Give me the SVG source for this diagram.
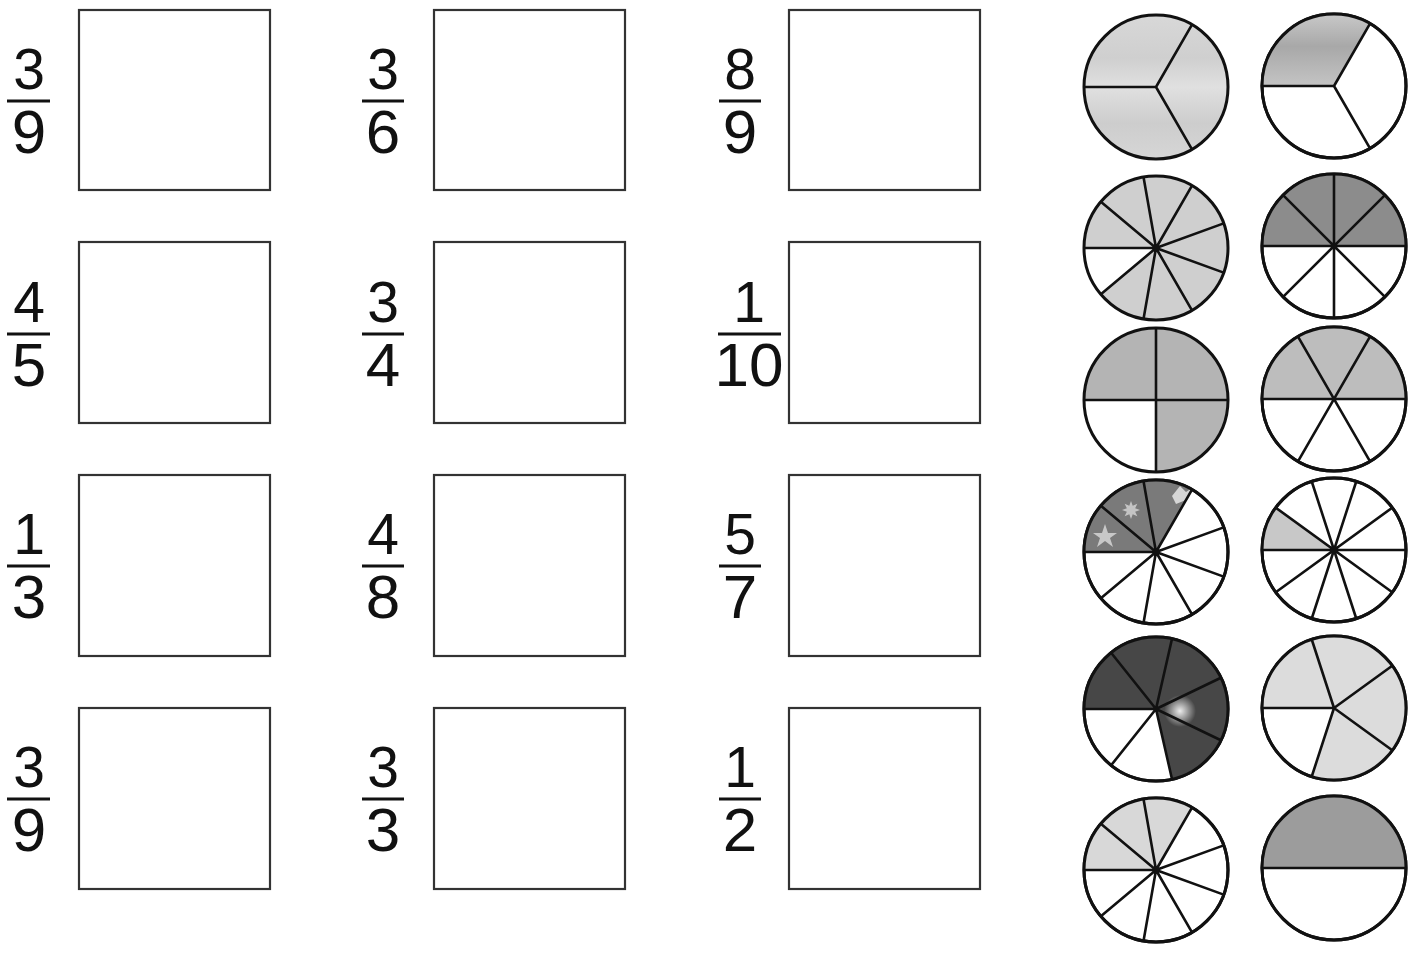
<svg xmlns="http://www.w3.org/2000/svg" width="1421" height="955" viewBox="0 0 1421 955">
<style>
.box{fill:#fff;stroke:#333;stroke-width:2.2}
.n{font-family:"Liberation Sans",Arial,sans-serif;font-size:57px;fill:#111;text-anchor:middle}
.d{font-family:"Liberation Sans",Arial,sans-serif;font-size:62px;fill:#111;text-anchor:middle}
.bar{stroke:#111;stroke-width:3}
.ring{fill:#fff;stroke:#111;stroke-width:3}
.ln{stroke:#111;stroke-width:2.6;fill:none}
.edge{fill:none;stroke:#111;stroke-width:3}
</style>
<defs>
<radialGradient id="glow" cx="0.5" cy="0.5" r="0.5">
<stop offset="0" stop-color="#fff" stop-opacity="0.9"/>
<stop offset="1" stop-color="#fff" stop-opacity="0"/>
</radialGradient>
<linearGradient id="band1" x1="0" y1="0" x2="0" y2="1">
<stop offset="0" stop-color="#d8d8d8"/>
<stop offset="0.3" stop-color="#cfcfcf"/>
<stop offset="0.5" stop-color="#e0e0e0"/>
<stop offset="0.75" stop-color="#cdcdcd"/>
<stop offset="1" stop-color="#d6d6d6"/>
</linearGradient>
<linearGradient id="band2" x1="0" y1="0" x2="0" y2="1">
<stop offset="0" stop-color="#c8c8c8"/>
<stop offset="0.45" stop-color="#a8a8a8"/>
<stop offset="1" stop-color="#c4c4c4"/>
</linearGradient>
</defs>

<g id="exercises">
<g id="ex-r1c1"><rect class="box" x="79" y="10" width="191" height="180"/><text class="n" x="29" y="89">3</text><line class="bar" x1="7" y1="101" x2="50" y2="101"/><text class="d" x="29" y="153">9</text></g>
<g id="ex-r1c2"><rect class="box" x="434" y="10" width="191" height="180"/><text class="n" x="383" y="89">3</text><line class="bar" x1="362" y1="101" x2="404" y2="101"/><text class="d" x="383" y="153">6</text></g>
<g id="ex-r1c3"><rect class="box" x="789" y="10" width="191" height="180"/><text class="n" x="740" y="89">8</text><line class="bar" x1="719" y1="101" x2="761" y2="101"/><text class="d" x="740" y="153">9</text></g>

<g id="ex-r2c1"><rect class="box" x="79" y="242" width="191" height="181"/><text class="n" x="29" y="322">4</text><line class="bar" x1="7" y1="334" x2="50" y2="334"/><text class="d" x="29" y="386">5</text></g>
<g id="ex-r2c2"><rect class="box" x="434" y="242" width="191" height="181"/><text class="n" x="383" y="322">3</text><line class="bar" x1="362" y1="334" x2="404" y2="334"/><text class="d" x="383" y="386">4</text></g>
<g id="ex-r2c3"><rect class="box" x="789" y="242" width="191" height="181"/><text class="n" x="749" y="322">1</text><line class="bar" x1="718" y1="334" x2="781" y2="334"/><text class="d" x="749" y="386">10</text></g>

<g id="ex-r3c1"><rect class="box" x="79" y="475" width="191" height="181"/><text class="n" x="29" y="554">1</text><line class="bar" x1="7" y1="566" x2="50" y2="566"/><text class="d" x="29" y="618">3</text></g>
<g id="ex-r3c2"><rect class="box" x="434" y="475" width="191" height="181"/><text class="n" x="383" y="554">4</text><line class="bar" x1="362" y1="566" x2="404" y2="566"/><text class="d" x="383" y="618">8</text></g>
<g id="ex-r3c3"><rect class="box" x="789" y="475" width="191" height="181"/><text class="n" x="740" y="554">5</text><line class="bar" x1="719" y1="566" x2="761" y2="566"/><text class="d" x="740" y="618">7</text></g>

<g id="ex-r4c1"><rect class="box" x="79" y="708" width="191" height="181"/><text class="n" x="29" y="787">3</text><line class="bar" x1="7" y1="799" x2="50" y2="799"/><text class="d" x="29" y="851">9</text></g>
<g id="ex-r4c2"><rect class="box" x="434" y="708" width="191" height="181"/><text class="n" x="383" y="787">3</text><line class="bar" x1="362" y1="799" x2="404" y2="799"/><text class="d" x="383" y="851">3</text></g>
<g id="ex-r4c3"><rect class="box" x="789" y="708" width="191" height="181"/><text class="n" x="740" y="787">1</text><line class="bar" x1="719" y1="799" x2="761" y2="799"/><text class="d" x="740" y="851">2</text></g>
</g>

<g id="circles">
<g id="circle-a">
<circle cx="1156" cy="87" r="72" fill="url(#band1)"/>
<path class="ln" d="M1156 87 L1084 87 M1156 87 L1192 24.65 M1156 87 L1192 149.35"/>
<circle class="edge" cx="1156" cy="87" r="72"/>
</g>
<g id="circle-b">
<circle class="ring" cx="1334" cy="86" r="72"/>
<path d="M1334 86 L1370 23.65 A72 72 0 0 0 1262 86 Z" fill="url(#band2)"/>
<path class="ln" d="M1334 86 L1262 86 M1334 86 L1370 23.65 M1334 86 L1370 148.35"/>
<circle class="edge" cx="1334" cy="86" r="72"/>
</g>
<g id="circle-c">
<circle cx="1156" cy="248" r="72" fill="#cfcfcf"/>
<path d="M1156 248 L1084 248 A72 72 0 0 0 1100.85 294.28 Z" fill="#fff"/>
<path class="ln" d="M1156 248 L1084 248 M1156 248 L1100.85 201.72 M1156 248 L1143.5 177.09 M1156 248 L1192 185.65 M1156 248 L1223.66 223.38 M1156 248 L1223.66 272.62 M1156 248 L1192 310.35 M1156 248 L1143.5 318.91 M1156 248 L1100.85 294.28"/>
<circle class="edge" cx="1156" cy="248" r="72"/>
</g>
<g id="circle-d">
<circle class="ring" cx="1334" cy="246" r="72"/>
<path d="M1262 246 A72 72 0 0 1 1406 246 Z" fill="#8c8c8c"/>
<path class="ln" d="M1262 246 L1406 246 M1334 174 L1334 318 M1283.09 195.09 L1384.91 296.91 M1384.91 195.09 L1283.09 296.91"/>
<circle class="edge" cx="1334" cy="246" r="72"/>
</g>
<g id="circle-e">
<circle cx="1156" cy="400" r="72" fill="#b4b4b4"/>
<path d="M1156 400 L1084 400 A72 72 0 0 0 1156 472 Z" fill="#fff"/>
<path class="ln" d="M1084 400 L1228 400 M1156 328 L1156 472"/>
<circle class="edge" cx="1156" cy="400" r="72"/>
</g>
<g id="circle-f">
<circle class="ring" cx="1334" cy="399" r="72"/>
<path d="M1262 399 A72 72 0 0 1 1406 399 Z" fill="#bdbdbd"/>
<path class="ln" d="M1262 399 L1406 399 M1370 336.65 L1298 461.35 M1298 336.65 L1370 461.35"/>
<circle class="edge" cx="1334" cy="399" r="72"/>
</g>
<g id="circle-g">
<circle class="ring" cx="1156" cy="552" r="72"/>
<path d="M1156 552 L1192 489.65 A72 72 0 0 0 1084 552 Z" fill="#7a7a7a"/>
<polygon points="1105,524 1108,533 1117,533 1110,538 1113,547 1105,541 1097,547 1100,538 1093,533 1102,533" fill="#c8c8c8"/>
<polygon points="1140,510 1135.16,511.72 1137.36,516.36 1132.72,514.16 1131,519 1129.28,514.16 1124.64,516.36 1126.84,511.72 1122,510 1126.84,508.28 1124.64,503.64 1129.28,505.84 1131,501 1132.72,505.84 1137.36,503.64 1135.16,508.28" fill="#c4c4c4"/>
<path d="M1172 496 L1180 486 L1186 492 L1192 488 L1186 500 L1176 504 Z" fill="#d6d6d6"/>
<path class="ln" d="M1156 552 L1084 552 M1156 552 L1100.85 505.72 M1156 552 L1143.5 481.09 M1156 552 L1192 489.65 M1156 552 L1223.66 527.38 M1156 552 L1223.66 576.62 M1156 552 L1192 614.35 M1156 552 L1143.5 622.91 M1156 552 L1100.85 598.28"/>
<circle class="edge" cx="1156" cy="552" r="72"/>
</g>
<g id="circle-h">
<circle class="ring" cx="1334" cy="550" r="72"/>
<path d="M1334 550 L1275.75 507.68 A72 72 0 0 0 1262 550 Z" fill="#c8c8c8"/>
<path class="ln" d="M1262 550 L1406 550 M1275.75 592.32 L1392.25 507.68 M1311.75 618.48 L1356.25 481.52 M1311.75 481.52 L1356.25 618.48 M1275.75 507.68 L1392.25 592.32"/>
<circle class="edge" cx="1334" cy="550" r="72"/>
</g>
<g id="circle-i">
<circle class="ring" cx="1156" cy="709" r="72"/>
<path d="M1156 709 L1172.02 779.19 A72 72 0 1 0 1084 709 Z" fill="#474747"/>
<circle cx="1180" cy="711" r="16" fill="url(#glow)"/>
<path class="ln" d="M1156 709 L1084 709 M1156 709 L1111.11 652.71 M1156 709 L1172.02 638.81 M1156 709 L1220.87 677.76 M1156 709 L1220.87 740.24 M1156 709 L1172.02 779.19 M1156 709 L1111.11 765.29"/>
<circle class="edge" cx="1156" cy="709" r="72"/>
</g>
<g id="circle-j">
<circle class="ring" cx="1334" cy="708" r="72"/>
<path d="M1334 708 L1311.75 776.48 A72 72 0 1 0 1262 708 Z" fill="#dcdcdc"/>
<path class="ln" d="M1334 708 L1262 708 M1334 708 L1311.75 639.52 M1334 708 L1392.25 665.68 M1334 708 L1392.25 750.32 M1334 708 L1311.75 776.48"/>
<circle class="edge" cx="1334" cy="708" r="72"/>
</g>
<g id="circle-k">
<circle class="ring" cx="1156" cy="870" r="72"/>
<path d="M1156 870 L1192 807.65 A72 72 0 0 0 1084 870 Z" fill="#d8d8d8"/>
<path class="ln" d="M1156 870 L1084 870 M1156 870 L1100.85 823.72 M1156 870 L1143.5 799.09 M1156 870 L1192 807.65 M1156 870 L1223.66 845.38 M1156 870 L1223.66 894.62 M1156 870 L1192 932.35 M1156 870 L1143.5 940.91 M1156 870 L1100.85 916.28"/>
<circle class="edge" cx="1156" cy="870" r="72"/>
</g>
<g id="circle-l">
<circle class="ring" cx="1334" cy="868" r="72"/>
<path d="M1262 868 A72 72 0 0 1 1406 868 Z" fill="#9c9c9c"/>
<path class="ln" d="M1262 868 L1406 868"/>
<circle class="edge" cx="1334" cy="868" r="72"/>
</g>
</g>
</svg>
